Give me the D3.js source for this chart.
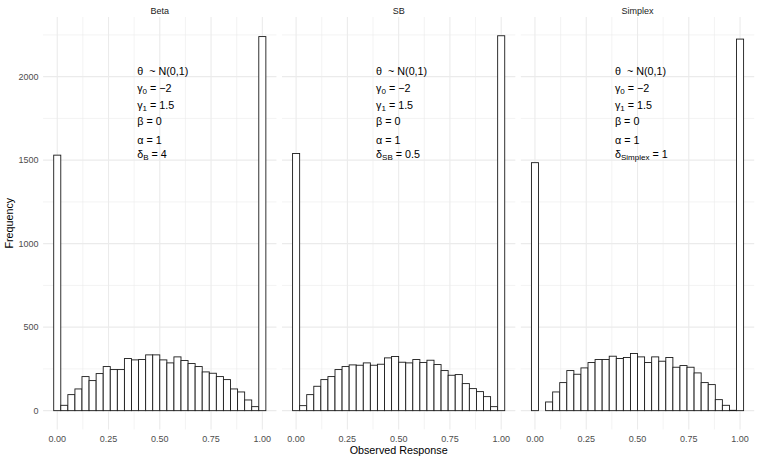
<!DOCTYPE html>
<html>
<head>
<meta charset="utf-8">
<script src="https://cdn.jsdelivr.net/npm/d3@7"></script>
<style>
  body { margin: 0; background: #fff; }
  text { font-family: "Liberation Sans", Arial, sans-serif; white-space: pre; }
</style>
</head>
<body>
<svg width="758" height="459"></svg>
<script>
// panel names and counts per bin (30 bins centred on 0, 1/29, ..., 1)
var panels = ["Beta", "SB", "Simplex"];
var betaCounts = [1530, 32, 96, 130, 204, 180, 222, 264, 246, 246, 312, 304, 306, 334, 334,
                  304, 286, 322, 300, 282, 264, 232, 224, 204, 186, 130, 112, 64, 24, 2240];
var sbCounts = [1540, 30, 96, 146, 186, 204, 246, 264, 274, 272, 286, 272, 278, 316, 324,
                290, 286, 306, 288, 302, 276, 240, 212, 216, 162, 132, 114, 84, 24, 2245];
var simplexCounts = [1485, 0, 52, 112, 168, 240, 218, 256, 288, 306, 306, 326, 312, 318, 342,
                     322, 288, 322, 296, 318, 260, 270, 260, 226, 168, 156, 66, 32, 2, 2225];
var deltaSubs = ["B", "SB", "Simplex"];
var deltaVals = ["4", "0.5", "1"];

var xTicks = [0, 0.25, 0.5, 0.75, 1];
var xMinor = [0.125, 0.375, 0.625, 0.875];
var yTicks = [0, 500, 1000, 1500, 2000];
var yMinor = [250, 750, 1250, 1750, 2250];

var allCounts = [betaCounts, sbCounts, simplexCounts];
var nBins = betaCounts.length,
    bw = 1 / (nBins - 1);

// plot area edges (note: "top" is a reserved window prop, so use pTop etc.)
var svg = d3.select("svg"),
    pLeft = 43.1, pRight = 754.2, pTop = 17, pBottom = 429.4,
    spacing = 5.5,
    pw = (pRight - pLeft - 2 * spacing) / 3;

var ymax = d3.max(allCounts, function(c) { return d3.max(c); });
var y = d3.scaleLinear()
    .domain([-0.05 * ymax, 1.05 * ymax])
    .range([pBottom, pTop]);

// x range of bars plus ggplot's 5% expansion
var xlo = -bw / 2, xhi = 1 + bw / 2, ex = (xhi - xlo) * 0.05;

panels.forEach(function(name, p) {
  var x0 = pLeft + p * (pw + spacing);
  var x = d3.scaleLinear().domain([xlo - ex, xhi + ex]).range([x0, x0 + pw]);
  var g = svg.append("g");

  // grid
  g.selectAll(".ymin").data(yMinor).enter().append("line")
      .attr("x1", x0).attr("x2", x0 + pw)
      .attr("y1", y).attr("y2", y)
      .attr("stroke", "#EBEBEB").attr("stroke-width", 0.6);
  g.selectAll(".xmin").data(xMinor).enter().append("line")
      .attr("x1", x).attr("x2", x)
      .attr("y1", pTop).attr("y2", pBottom)
      .attr("stroke", "#EBEBEB").attr("stroke-width", 0.6);
  g.selectAll(".ymaj").data(yTicks).enter().append("line")
      .attr("x1", x0).attr("x2", x0 + pw)
      .attr("y1", y).attr("y2", y)
      .attr("stroke", "#EBEBEB").attr("stroke-width", 1.1);
  g.selectAll(".xmaj").data(xTicks).enter().append("line")
      .attr("x1", x).attr("x2", x)
      .attr("y1", pTop).attr("y2", pBottom)
      .attr("stroke", "#EBEBEB").attr("stroke-width", 1.1);

  // bars
  g.selectAll("rect").data(allCounts[p]).enter().append("rect")
      .attr("x", function(d, i) { return x(i * bw - bw / 2); })
      .attr("width", function(d, i) { return x(i * bw + bw / 2) - x(i * bw - bw / 2); })
      .attr("y", function(d) { return y(d); })
      .attr("height", function(d) { return y(0) - y(d); })
      .attr("fill", "#fff")
      .attr("stroke", "#1a1a1a")
      .attr("stroke-width", 0.9);

  // strip label
  svg.append("text")
      .attr("x", x0 + pw / 2).attr("y", 13.5)
      .attr("text-anchor", "middle")
      .attr("font-size", "9px").attr("fill", "#1A1A1A")
      .text(name);

  // x tick labels
  g.selectAll(".xlab").data(xTicks).enter().append("text")
      .attr("x", x).attr("y", 441.5)
      .attr("text-anchor", "middle")
      .attr("font-size", "9px").attr("fill", "#4D4D4D")
      .text(d3.format(".2f"));

  // parameter annotation
  var ax = x(0.39);
  var ann = g.append("g").attr("font-size", "10.75px").attr("fill", "#000");
  function line(yv) {
    return ann.append("text").attr("x", ax).attr("y", y(yv)).attr("dy", "0.35em");
  }
  line(2035).text("θ  ~ N(0,1)");
  var t = line(1932);
  t.append("tspan").text("γ");
  t.append("tspan").attr("font-size", "8px").attr("dy", "2.5").text("0");
  t.append("tspan").attr("dy", "-2.5").text(" = −2");
  t = line(1831);
  t.append("tspan").text("γ");
  t.append("tspan").attr("font-size", "8px").attr("dy", "2.5").text("1");
  t.append("tspan").attr("dy", "-2.5").text(" = 1.5");
  line(1731).text("β = 0");
  line(1622).text("α = 1");
  t = line(1537);
  t.append("tspan").text("δ");
  t.append("tspan").attr("font-size", "8px").attr("dy", "2.5").text(deltaSubs[p]);
  t.append("tspan").attr("dy", "-2.5").text(" = " + deltaVals[p]);
});

// y tick labels (left panel only)
svg.selectAll(".ylab").data(yTicks).enter().append("text")
    .attr("x", 38.5).attr("y", y).attr("dy", "0.35em")
    .attr("text-anchor", "end")
    .attr("font-size", "9px").attr("fill", "#4D4D4D")
    .text(function(d) { return d; });

// axis titles
svg.append("text")
    .attr("x", (pLeft + pRight) / 2).attr("y", 454)
    .attr("text-anchor", "middle")
    .attr("font-size", "10.75px").attr("fill", "#000")
    .text("Observed Response");
svg.append("text")
    .attr("transform", "translate(13," + (pTop + pBottom) / 2 + ") rotate(-90)")
    .attr("text-anchor", "middle")
    .attr("font-size", "10.75px").attr("fill", "#000")
    .text("Frequency");
</script>
</body>
</html>
